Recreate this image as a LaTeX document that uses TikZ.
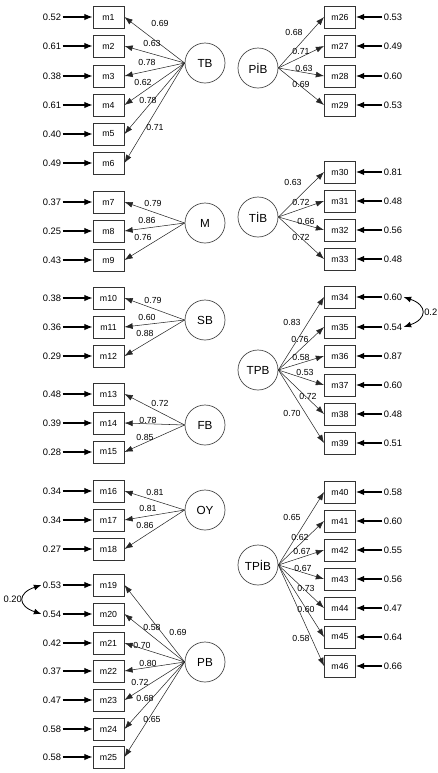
\documentclass[tikz,border=0pt]{standalone}
\usepackage{fontspec}
\setmainfont{Liberation Sans}
\usepackage{tikz}
\usetikzlibrary{arrows.meta}

\begin{document}
\begin{tikzpicture}[x=0.03cm, y=-0.03cm,
  obs/.style={draw=black!80, line width=0.8pt, minimum width=0.93cm, minimum height=0.66cm, inner sep=0pt, font=\fontsize{7.5}{9}\selectfont},
  lat/.style={circle, draw=black!70, line width=0.6pt, minimum size=1.2cm, inner sep=0pt, font=\fontsize{10}{12}\selectfont},
  errv/.style={inner sep=1pt, font=\fontsize{8}{9}\selectfont},
  ldv/.style={inner sep=0pt, font=\fontsize{7.5}{9}\selectfont},
  load/.style={-{Latex[length=7pt,width=5pt]}, line width=0.45pt, black!85},
  res/.style={-{Latex[length=7pt,width=5.5pt]}, line width=0.9pt},
  cov/.style={{Latex[length=6.5pt,width=5pt]}-{Latex[length=6.5pt,width=5pt]}, line width=0.7pt}]
\useasboundingbox (0,0) rectangle (437,773);

% left side: indicators and error variances
\foreach \i/\y/\e in {1/17/0.52, 2/46/0.61, 3/76/0.38, 4/105/0.61, 5/134/0.40, 6/163/0.49,
  7/202/0.37, 8/231/0.25, 9/260/0.43, 10/298/0.38, 11/327/0.36, 12/356/0.29,
  13/394/0.48, 14/423/0.39, 15/452/0.28, 16/491/0.34, 17/520/0.34, 18/549/0.27,
  19/585/0.53, 20/614/0.54, 21/643/0.42, 22/671/0.37, 23/700/0.47, 24/729/0.58, 25/757/0.58} {
  \node[obs] (m\i) at (108.5,\y) {m\i};
  \node[errv] (e\i) at (52,\y) {\e};
  \draw[res] (e\i) -- (m\i);
}
% right side
\foreach \i/\y/\e in {26/17/0.53, 27/46/0.49, 28/76/0.60, 29/105/0.53,
  30/172/0.81, 31/201/0.48, 32/230/0.56, 33/259/0.48,
  34/297/0.60, 35/327/0.54, 36/356/0.87, 37/385/0.60, 38/414/0.48, 39/443/0.51,
  40/492/0.58, 41/521/0.60, 42/550/0.55, 43/579/0.56, 44/608/0.47, 45/637/0.64, 46/666/0.66} {
  \node[obs] (m\i) at (340,\y) {m\i};
  \node[errv] (e\i) at (393,\y) {\e};
  \draw[res] (e\i) -- (m\i);
}

% latent variables
\foreach \n/\x/\y/\t in {TB/205/63/TB, M/205/223/M, SB/205/320/SB, FB/205/425/FB, OY/205/510/OY, PB/205/662/PB,
  PIB/258/68/PİB, TIB/258/217/TİB, TPB/258/370/TPB, TPIB/258/565/TPİB}
  \node[lat] (\n) at (\x,\y) {\t};

% loadings
\foreach \n/\i/\v/\lx/\ly in {TB/1/0.69/160/23, TB/2/0.63/152/43, TB/3/0.78/147/62, TB/4/0.62/143/82, TB/5/0.78/148/100, TB/6/0.71/155/127,
  M/7/0.79/153/203, M/8/0.86/147/220, M/9/0.76/143/237,
  SB/10/0.79/153/300, SB/11/0.60/147/317, SB/12/0.88/145/333,
  FB/13/0.72/160/403, FB/14/0.78/148/420, FB/15/0.85/145/437,
  OY/16/0.81/155/492, OY/17/0.81/148/508, OY/18/0.86/145/525,
  PB/19/0.69/178/632, PB/20/0.58/152/627, PB/21/0.70/142/645, PB/22/0.80/148/663, PB/23/0.72/140/682, PB/24/0.68/145/698, PB/25/0.65/152/719} {
  \draw[load] (\n.west) -- (m\i.east);
  \node[ldv] (l\i) at (\lx,\ly) {\v};
}
\foreach \n/\i/\v/\lx/\ly in {PIB/26/0.68/294/32, PIB/27/0.71/301/51, PIB/28/0.63/304/68, PIB/29/0.69/301/84,
  TIB/30/0.63/293/182, TIB/31/0.72/301/202, TIB/32/0.66/306/221, TIB/33/0.72/301/237,
  TPB/34/0.83/292/322, TPB/35/0.76/300/339, TPB/36/0.58/301/357, TPB/37/0.53/305/372, TPB/38/0.72/308/396, TPB/39/0.70/292/413,
  TPIB/40/0.65/292/517, TPIB/41/0.62/300/537, TPIB/42/0.67/302/551, TPIB/43/0.67/303/568, TPIB/44/0.73/306/588, TPIB/45/0.60/306/609, TPIB/46/0.58/301/638} {
  \draw[load] (\n.east) -- (m\i.west);
  \node[ldv] (l\i) at (\lx,\ly) {\v};
}

% error covariances
\draw[cov] (e19.west) .. controls +(-24,8) and +(-24,-8) .. (e20.west) node[pos=0.5, left=0pt, errv] (c1) {0.20};
\draw[cov] (e34.east) .. controls +(24,8) and +(24,-8) .. (e35.east) node[pos=0.5, right=1pt, errv] (c2) {0.2};
\end{tikzpicture}
\end{document}
